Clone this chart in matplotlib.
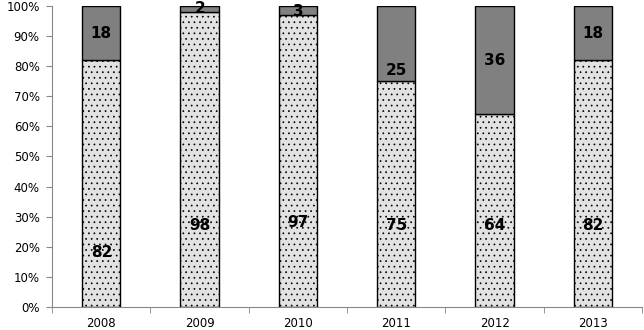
import matplotlib.pyplot as plt
import numpy as np

years = ["2008", "2009", "2010", "2011", "2012", "2013"]
lower = [82, 98, 97, 75, 64, 82]
upper = [18, 2, 3, 25, 36, 18]

# label heights (in %) as placed in the original chart
lower_label_y = [18, 27, 28, 27, 27, 27]
upper_label_y = [91, 99, 98, 78.5, 82, 91]

plt.rcParams['hatch.color'] = '#8a8a8a'
plt.rcParams['hatch.linewidth'] = 0.5

fig = plt.figure(figsize=(6.44, 3.30), dpi=100)
ax = fig.add_axes([0.081, 0.07, 0.916, 0.912])

x = np.arange(len(years))
ax.bar(x, lower, width=0.39, color='#e2e2e2', edgecolor='black', linewidth=1.0, hatch='...')
ax.bar(x, upper, width=0.39, bottom=lower, color='#808080', edgecolor='black', linewidth=1.0)

for i in range(len(years)):
    ax.text(x[i], lower_label_y[i], str(lower[i]), ha='center', va='center',
            fontsize=11, fontweight='bold', color='black')
    ax.text(x[i], upper_label_y[i], str(upper[i]), ha='center', va='center',
            fontsize=11, fontweight='bold', color='black')

ax.set_xlim(-0.5, len(years) - 0.5)
ax.set_ylim(0, 100)
ax.set_yticks(np.arange(0, 101, 10))
ax.set_yticklabels([f"{v}%" for v in range(0, 101, 10)], fontsize=8.5)
ax.set_xticks(x)
ax.set_xticklabels(years, fontsize=8.5)
ax.set_xticks(np.arange(-0.5, len(years), 1), minor=True)
ax.tick_params(axis='x', which='major', length=0, pad=7)
ax.tick_params(axis='x', which='minor', length=4, color='#888888')
ax.tick_params(axis='y', length=4, color='#888888', pad=5)

for s in ['top', 'right']:
    ax.spines[s].set_visible(False)
for s in ['left', 'bottom']:
    ax.spines[s].set_color('#888888')

fig.savefig('out.png', dpi=100)
